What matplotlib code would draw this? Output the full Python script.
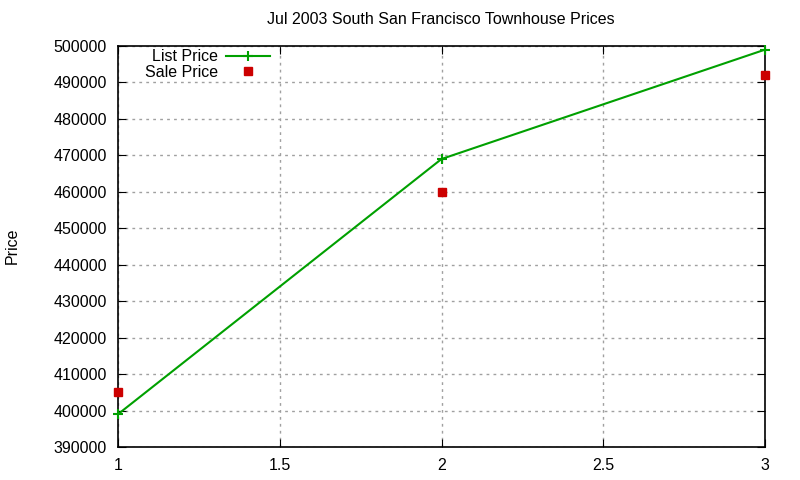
import matplotlib
matplotlib.use("Agg")
import matplotlib.pyplot as plt
from matplotlib.ticker import MultipleLocator, FormatStrFormatter

x_vals = [1, 2, 3]
list_price = [399000, 469000, 499000]
sale_price = [405000, 460000, 492000]
title = "Jul 2003 South San Francisco Townhouse Prices"

plt.rcParams['font.family'] = ['Liberation Sans', 'DejaVu Sans']
fig = plt.figure(figsize=(8, 4.8), dpi=100)
ax = fig.add_axes([118/800, 1-447/480, (765-118)/800, (447-46)/480])

ax.plot(x_vals, list_price, color='#00a000', marker='+', markersize=7, mew=1.5, lw=1.5,
        label='List Price', clip_on=False, zorder=5)
ax.plot(x_vals, sale_price, color='#cc0000', marker='s', markersize=6, lw=0,
        label='Sale Price', clip_on=False, zorder=5)

ax.set_xlim(1, 3)
ax.set_ylim(390000, 500000)
ax.xaxis.set_major_locator(MultipleLocator(0.5))
ax.yaxis.set_major_locator(MultipleLocator(10000))
ax.xaxis.set_major_formatter(FormatStrFormatter('%g'))
ax.yaxis.set_major_formatter(FormatStrFormatter('%d'))
ax.grid(True, color='#a0a0a0', linestyle=(0, (2, 3)), lw=1)
ax.tick_params(direction='in', top=True, right=True, labelsize=11.5, length=6, color='black', pad=8)
for s in ax.spines.values():
    s.set_linewidth(1.2)
fig.text(441/800, 1-20/480, title, ha='center', va='center', fontsize=11.5)
fig.text(12/800, 1-246/480, 'Price', rotation=90, va='center', ha='center', fontsize=11.5)

ax.legend(loc='upper left', bbox_to_anchor=(0.025, 1.02), frameon=False, markerfirst=False,
          fontsize=11.5, handlelength=2.7, labelspacing=0.05, borderpad=0.2, numpoints=1, handletextpad=0.5)

fig.savefig('out.png', dpi=100)
